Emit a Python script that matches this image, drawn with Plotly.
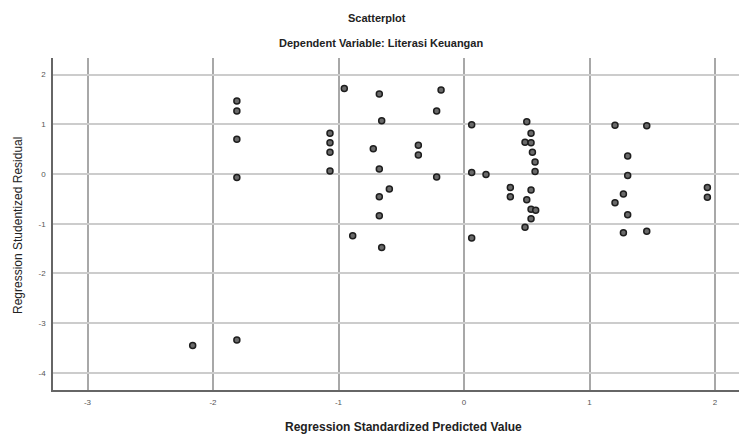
import plotly.graph_objects as go

# Regression Standardized Predicted Value
pred = [-1.81, -1.81, -1.81, -1.81, -0.954, -0.675, -0.183, -0.218, -0.656, 0.061,
        -1.068, -1.068, -1.068, -1.068, -0.723, -0.364, -0.364, -0.675, -0.218, 0.061,
        0.175, -0.595, -0.675, -0.675, -0.887, -0.656, 0.061,
        0.50, 0.534, 0.486, 0.534, 0.545, 0.566, 0.566, 0.369, 0.369, 0.534,
        0.50, 0.534, 0.571, 0.534, 0.486,
        1.203, 1.456, 1.304, 1.304, 1.27, 1.203, 1.304, 1.27, 1.456,
        1.939, 1.939,
        -2.162, -1.81]
# Regression Studentized Residual
resid = [1.47, 1.27, 0.70, -0.07, 1.72, 1.61, 1.69, 1.27, 1.07, 0.99,
         0.82, 0.63, 0.44, 0.06, 0.51, 0.58, 0.38, 0.10, -0.06, 0.03,
         -0.01, -0.30, -0.46, -0.84, -1.24, -1.48, -1.29,
         1.05, 0.82, 0.64, 0.63, 0.44, 0.24, 0.05, -0.27, -0.46, -0.32,
         -0.52, -0.71, -0.73, -0.90, -1.07,
         0.98, 0.97, 0.36, -0.03, -0.40, -0.58, -0.82, -1.18, -1.15,
         -0.27, -0.47,
         -3.45, -3.34]

x_ticks = [-3, -2, -1, 0, 1, 2]
y_ticks = [-4, -3, -2, -1, 0, 1, 2]

title_text = "Scatterplot"
subtitle_text = "Dependent Variable: Literasi Keuangan"
x_title = "Regression Standardized Predicted Value"
y_title = "Regression Studentized Residual"

W, H = 739, 434
L, R, T, B = 53, 0, 58, 44
pw, ph = W - L - R, H - T - B

def px(xp):
    return (xp - L) / pw

def py(yp):
    return (H - B - yp) / ph

fig = go.Figure()

fig.add_trace(go.Scatter(
    x=pred, y=resid, mode="markers",
    marker=dict(size=6, color="#6a6a6a", line=dict(color="#1e1e1e", width=1.5)),
    showlegend=False, hoverinfo="x+y"))

fig.update_layout(
    width=W, height=H,
    margin=dict(l=L, r=R, t=T, b=B),
    paper_bgcolor="white", plot_bgcolor="white",
    font=dict(family="Liberation Sans, Arial, sans-serif", color="#222"),
    xaxis=dict(range=[-3.275, 2.191], tickvals=x_ticks, ticktext=[str(v) for v in x_ticks],
               showgrid=True, gridcolor="#a8a8a8", gridwidth=1.5,
               zeroline=False, showline=True, linecolor="#666", linewidth=1.5,
               ticks="", tickfont=dict(size=8, color="#555"), ticklabelstandoff=4),
    yaxis=dict(range=[-4.346, 2.334], tickvals=y_ticks, ticktext=[str(v) for v in y_ticks],
               showgrid=True, gridcolor="#cccccc", gridwidth=2,
               zeroline=False, showline=True, linecolor="#666", linewidth=1.5,
               ticks="", tickfont=dict(size=8, color="#555"), ticklabelstandoff=4),
)

ann = [
    dict(text="<b>" + title_text + "</b>", x=px(377), y=py(18), size=11),
    dict(text="<b>" + subtitle_text + "</b>", x=px(381), y=py(43), size=11),
    dict(text="<b>" + x_title + "</b>", x=px(403), y=py(427), size=12),
]
for a in ann:
    fig.add_annotation(text=a["text"], x=a["x"], y=a["y"], xref="paper", yref="paper",
                       showarrow=False, xanchor="center", yanchor="middle",
                       font=dict(size=a["size"], color="#222"))
fig.add_annotation(text=y_title, x=px(18), y=py(226), xref="paper", yref="paper",
                   showarrow=False, xanchor="center", yanchor="middle", textangle=-90,
                   font=dict(size=12, color="#222"))

fig.write_html("out.html", config={"displayModeBar": False},
               post_script="document.body.style.margin='0';document.body.style.overflow='hidden';")
